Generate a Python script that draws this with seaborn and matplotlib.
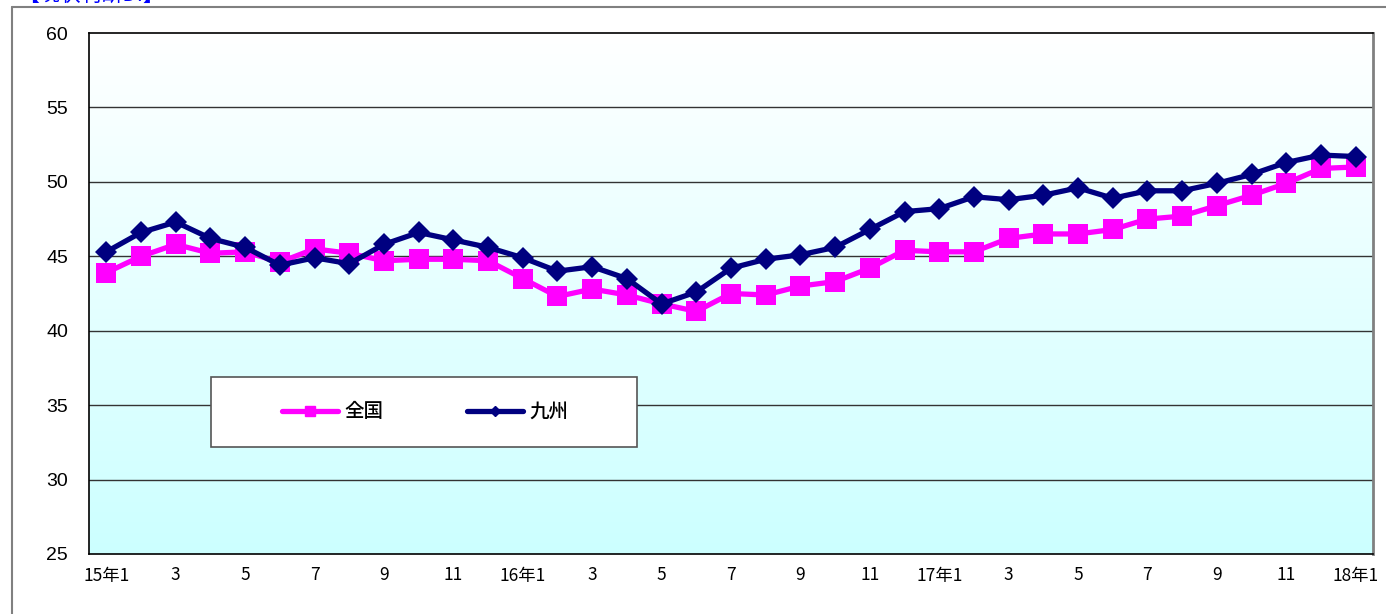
import numpy as np
import pandas as pd
import matplotlib
matplotlib.use("Agg")
import matplotlib.pyplot as plt
import seaborn as sns
from matplotlib.lines import Line2D
from matplotlib.patches import Rectangle

# Datos (2015年1月 - 2018年1月)
meses = list(range(37))
etiquetas = ["15年1", "3", "5", "7", "9", "11",
             "16年1", "3", "5", "7", "9", "11",
             "17年1", "3", "5", "7", "9", "11", "18年1"]
zenkoku = [43.9, 45.0, 45.8, 45.2, 45.3, 44.6, 45.5, 45.2, 44.7, 44.8, 44.8, 44.7,
           43.5, 42.3, 42.8, 42.4, 41.8, 41.3, 42.5, 42.4, 43.0, 43.3, 44.2, 45.4,
           45.3, 45.3, 46.2, 46.5, 46.5, 46.8, 47.5, 47.7, 48.4, 49.1, 49.9, 50.9, 51.0]
kyushu = [45.3, 46.6, 47.3, 46.2, 45.6, 44.4, 44.9, 44.5, 45.8, 46.6, 46.1, 45.6,
          44.9, 44.0, 44.3, 43.5, 41.8, 42.6, 44.2, 44.8, 45.1, 45.6, 46.8, 48.0,
          48.2, 49.0, 48.8, 49.1, 49.6, 48.9, 49.4, 49.4, 49.9, 50.5, 51.3, 51.8, 51.7]

df = pd.DataFrame({"mes": meses, "全国": zenkoku, "九州": kyushu})

sns.set_style("white")
plt.rcParams["font.family"] = ["Noto Sans CJK JP", "DejaVu Sans"]
plt.rcParams["text.color"] = "black"
plt.rcParams["xtick.color"] = "black"
plt.rcParams["ytick.color"] = "black"

fig = plt.figure(figsize=(13.86, 6.14), dpi=100)
ax = fig.add_axes([89/1386, 60/614, 1284/1386, 521/614])

# Fondo degradado blanco -> celeste
grad = np.linspace(0, 1, 256).reshape(-1, 1)
cmap = matplotlib.colors.LinearSegmentedColormap.from_list("bg", ["#ccffff", "#ffffff"])
ax.imshow(grad, extent=[-0.5, 36.5, 25, 60], origin="lower", aspect="auto",
          cmap=cmap, zorder=0)

for y in [30, 35, 40, 45, 50, 55]:
    ax.axhline(y, color="#333333", lw=1.0, zorder=1)

sns.lineplot(data=df, x="mes", y="全国", ax=ax, color="#ff00ff", lw=3.8,
             marker="s", markersize=14.5, markeredgewidth=0, zorder=3)
sns.lineplot(data=df, x="mes", y="九州", ax=ax, color="#000080", lw=3.8,
             marker="D", markersize=11.5, markeredgewidth=0, zorder=4)

ax.set_xlim(-0.5, 36.5)
ax.set_ylim(25, 60)
ax.set_yticks(range(25, 61, 5))
ax.set_xticks(range(0, 37, 2))
ax.set_xticklabels(etiquetas)
ax.set_xticks(np.arange(0.5, 36, 1), minor=True)
ax.tick_params(axis="x", which="major", length=0, pad=9, labelsize=12.5)
ax.tick_params(axis="x", which="minor", direction="in", length=5, width=1, color="#333333")
ax.tick_params(axis="y", length=0, pad=15, labelsize=14)
for t in ax.get_yticklabels():
    t.set_family(["Liberation Sans", "DejaVu Sans"])
ax.set_xlabel("")
ax.set_ylabel("")

for s in ["left", "bottom", "top"]:
    ax.spines[s].set_color("black")
    ax.spines[s].set_linewidth(1.2)
ax.spines["right"].set_color("#808080")
ax.spines["right"].set_linewidth(2)

# Leyenda con marco propio
ax.add_patch(Rectangle((0.095, 0.205), 0.332, 0.135, transform=ax.transAxes,
                       facecolor="white", edgecolor="#555555", lw=1.2, zorder=5))
handles = [Line2D([], [], color="#ff00ff", lw=3.8, marker="s", markersize=7),
           Line2D([], [], color="#000080", lw=3.8, marker="D", markersize=5)]
leg = ax.legend(handles, ["全国", "九州"], ncol=2, loc="center",
                bbox_to_anchor=(0.2617, 0.2726), frameon=False,
                prop={"size": 14, "weight": "medium"},
                handlelength=2.9, handletextpad=0.3, columnspacing=4.3,
                borderpad=0, borderaxespad=0)
leg.set_zorder(6)

# Marco exterior
fig.add_artist(Line2D([12/1386, 12/1386], [0, 1 - 7/614], color="#808080", lw=1.5))
fig.add_artist(Line2D([12/1386, 1], [1 - 7/614, 1 - 7/614], color="#808080", lw=1.5))

# Título recortado arriba
fig.text(18/1386, 1 + 5/614, "【現状判断DI】", color="#0000ff", fontsize=15,
         ha="left", va="center")

fig.savefig("out.png", dpi=100)
